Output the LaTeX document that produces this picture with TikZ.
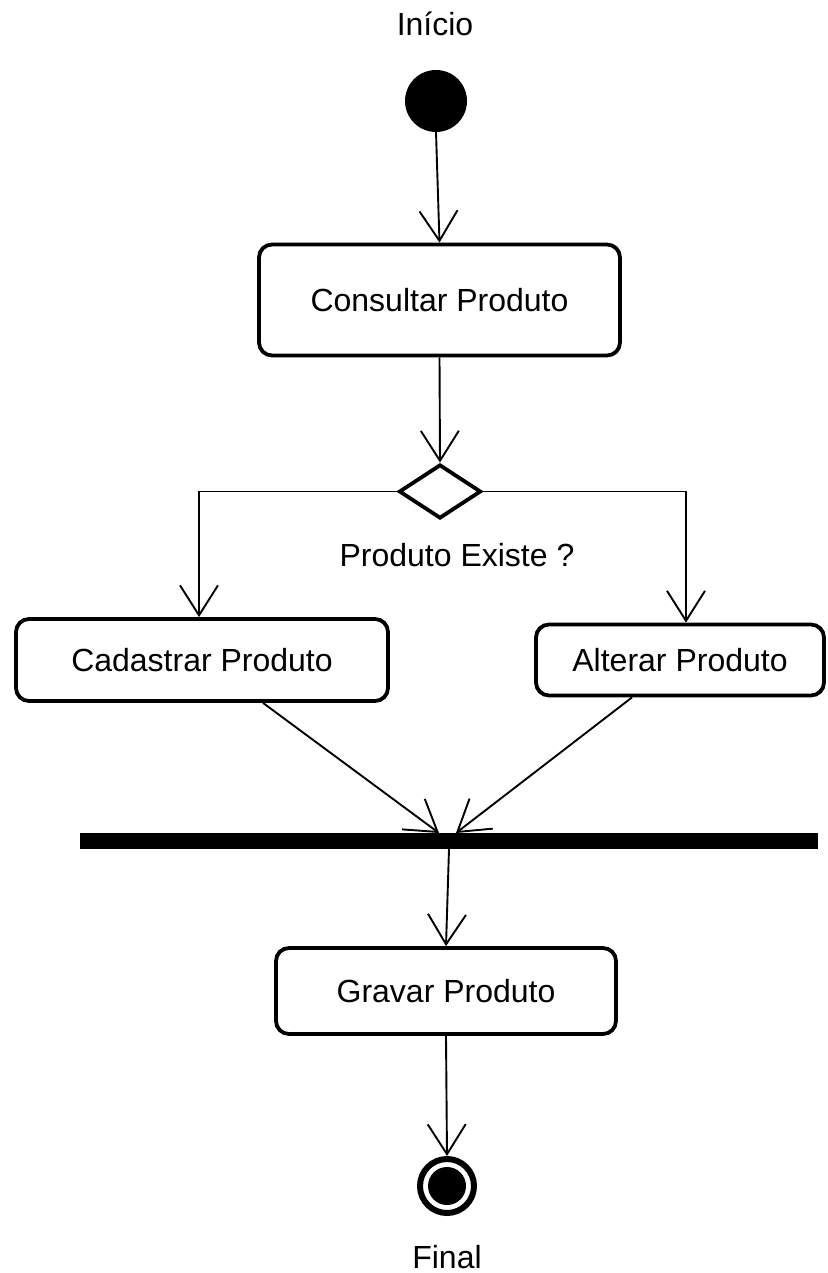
\documentclass[tikz,border=0pt]{standalone}
\usepackage{fontspec}
\setmainfont{Liberation Sans}
\usetikzlibrary{arrows.meta,shapes.geometric}
\begin{document}
\begin{tikzpicture}[x=1pt,y=1pt,
  every node/.style={font=\fontsize{32}{38}\selectfont, inner sep=0pt},
  activity/.style={draw, line width=3.8pt, rounded corners=13pt},
  flow/.style={line width=1.9pt, -{Straight Barb[length=30pt,width=38pt,line width=1.9pt]}}]
\useasboundingbox (0,0) rectangle (827,-1273);

% start and end labels
\node (lblstart) at (435,-24) {Início};
\node[circle, fill=black, minimum size=62pt, outer sep=0pt] (start) at (436,-101) {};

% activities
\node[activity, minimum width=361pt, minimum height=111pt] (consult) at (439.5,-300) {Consultar Produto};
\node[diamond, draw, line width=3.8pt, minimum width=82pt, minimum height=54pt, aspect=1.5] (dec) at (440,-491.5) {};
\node (lbldec) at (457,-555) {Produto Existe ?};
\node[activity, minimum width=372pt, minimum height=82pt] (cad) at (202,-660) {Cadastrar Produto};
\node[activity, minimum width=288pt, minimum height=71pt] (alt) at (680,-660) {Alterar Produto};
\node[fill=black, minimum width=738pt, minimum height=16pt, outer sep=0pt] (bar) at (449,-841) {};
\node[activity, minimum width=340pt, minimum height=86pt] (grav) at (446,-991) {Gravar Produto};

% final state
\node[circle, draw, line width=6pt, minimum size=54pt] (end) at (447,-1186) {};
\fill (end.center) circle (19pt);
\node (lblend) at (447,-1257) {Final};

% control flow
\draw[flow] (start.south) -- (consult.north);
\draw[flow] (consult.south) -- (dec.north);
\draw[flow] (dec.west) -| ([xshift=-3pt]cad.north);
\draw[flow] (dec.east) -| ([xshift=6pt]alt.north);
\draw[flow] ([xshift=61pt]cad.south) -- ([xshift=-10pt]bar.north);
\draw[flow] ([xshift=-48pt]alt.south) -- ([xshift=7pt]bar.north);
\draw[flow] (bar.south) -- (grav.north);
\draw[flow] (grav.south) -- (end.north);
\end{tikzpicture}
\end{document}
